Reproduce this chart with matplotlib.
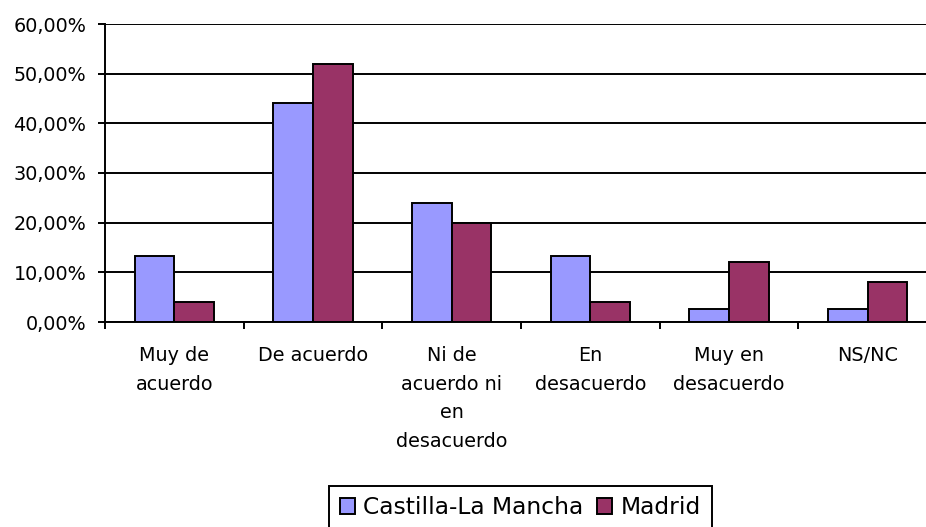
import matplotlib
matplotlib.use("Agg")
import matplotlib.pyplot as plt
from matplotlib.ticker import FuncFormatter, FixedLocator
import numpy as np

categories = ["Muy de\nacuerdo", "De acuerdo", "Ni de\nacuerdo ni\nen\ndesacuerdo",
              "En\ndesacuerdo", "Muy en\ndesacuerdo", "NS/NC"]
series_names = ["Castilla-La Mancha", "Madrid"]
castilla = [13.33, 44.00, 24.00, 13.33, 2.67, 2.67]
madrid = [4.00, 52.00, 20.00, 4.00, 12.00, 8.00]
yticks = [0, 10, 20, 30, 40, 50, 60]
colors = ["#9999FF", "#993366"]

plt.rcParams['font.family'] = ['DejaVu Sans']

fig = plt.figure(figsize=(9.26, 5.27), dpi=100)
W, H = 926, 527
left, right, top, bottom = 105, 937, 24, 322
ax = fig.add_axes([left / W, 1 - bottom / H, (right - left) / W, (bottom - top) / H])

x = np.arange(len(categories))
bw = 0.285
lw = 1.4
b1 = ax.bar(x - bw / 2, castilla, bw, color=colors[0], edgecolor="black", linewidth=lw,
            label=series_names[0], zorder=3)
b2 = ax.bar(x + bw / 2, madrid, bw, color=colors[1], edgecolor="black", linewidth=lw,
            label=series_names[1], zorder=3)

ax.set_xlim(-0.5, len(categories) - 0.5)
ax.set_ylim(0, 60)
ax.set_yticks(yticks)
ax.yaxis.set_major_formatter(FuncFormatter(lambda v, p: f"{v:.2f}".replace(".", ",") + "%"))
ax.yaxis.grid(True, color="black", linewidth=lw, zorder=0)
ax.set_axisbelow(True)

ax.set_xticks(x)
ax.set_xticklabels(categories, linespacing=1.63, va="top")
ax.xaxis.set_minor_locator(FixedLocator(np.arange(-0.5, len(categories), 1.0)))
ax.tick_params(axis="x", which="major", length=0, pad=17.5, labelsize=13.8)
ax.tick_params(axis="x", which="minor", length=5, width=lw, direction="out")
ax.tick_params(axis="y", which="major", length=5, width=lw, direction="out", pad=8.5, labelsize=13.8)

for s in ["top", "right"]:
    ax.spines[s].set_visible(False)
for s in ["left", "bottom"]:
    ax.spines[s].set_linewidth(lw)
    ax.spines[s].set_zorder(4)

leg = fig.legend(handles=[b1, b2], labels=series_names, loc="upper left",
                 bbox_to_anchor=(329 / W, 1 - 486 / H), ncol=2, fontsize=16.8,
                 frameon=True, fancybox=False, edgecolor="black", framealpha=1,
                 handlelength=0.66, handleheight=0.66, handletextpad=0.36,
                 columnspacing=0.58, borderpad=0.45, borderaxespad=0)
leg.get_frame().set_linewidth(lw)

fig.savefig("out.png", dpi=100)
